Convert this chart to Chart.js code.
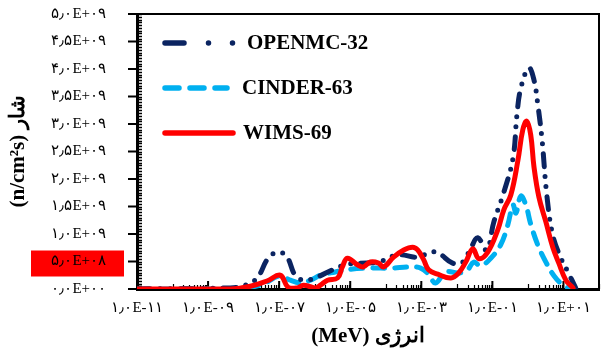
<!DOCTYPE html>
<html><head><meta charset="utf-8">
<script src="https://cdn.jsdelivr.net/npm/chart.js@4.4.0/dist/chart.umd.min.js"></script>
<style>html,body{margin:0;padding:0;background:#fff;overflow:hidden}</style>
</head><body>
<canvas id="c" width="601" height="349" style="width:601px;height:349px;display:block"></canvas>
<script>
// ---------- data (energy in MeV, flux in n/cm2s) ----------
const seriesNames = ['OPENMC-32', 'CINDER-63', 'WIMS-69'];

const openmcEnergy = [1e-11, 4.2e-9, 1.1e-8, 2.4e-8, 4.9e-8, 8.9e-8, 1.6e-7, 2.9e-7, 5.5e-7, 1.2e-6, 3.2e-6, 7.4e-6, 1.95e-5, 6.3e-5, 2.15e-4, 7.9e-4, 1.83e-3, 3.1e-3, 7.6e-3, 1.46e-2, 2.5e-2, 3.9e-2, 6.9e-2, 0.11, 0.21, 0.38, 0.49, 0.63, 1.06, 1.48, 1.9, 2.5, 3.4, 5.0, 8.5, 13.4, 22];
const openmcFlux   = [0, 0.02e9, 0.07e9, 0.2e9, 0.56e9, 0.67e9, 0.6e9, 0.24e9, 0.16e9, 0.22e9, 0.35e9, 0.44e9, 0.47e9, 0.49e9, 0.62e9, 0.58e9, 0.67e9, 0.65e9, 0.47e9, 0.49e9, 0.75e9, 0.93e9, 0.71e9, 1.22e9, 1.76e9, 2.38e9, 3.16e9, 3.65e9, 4.02e9, 3.8e9, 3.35e9, 2.71e9, 1.71e9, 0.98e9, 0.56e9, 0.31e9, 0.02e9];

const cinderEnergy = [1e-11, 4.2e-9, 2.95e-8, 1.07e-7, 2.07e-7, 4.0e-7, 7.6e-7, 1.45e-6, 3.8e-6, 1.0e-5, 3.7e-5, 1.36e-4, 5.0e-4, 9.6e-4, 1.6e-3, 2.5e-3, 4.9e-3, 1.12e-2, 2.0e-2, 3.0e-2, 4.7e-2, 9.0e-2, 0.17, 0.27, 0.38, 0.46, 0.63, 0.87, 1.2, 1.9, 3.2, 5.4, 9.7, 16];
const cinderFlux   = [0, 0, 0.07e9, 0.24e9, 0.16e9, 0.11e9, 0.16e9, 0.25e9, 0.31e9, 0.36e9, 0.38e9, 0.38e9, 0.4e9, 0.38e9, 0.27e9, 0.11e9, 0.31e9, 0.29e9, 0.35e9, 0.49e9, 0.42e9, 0.56e9, 0.8e9, 1.16e9, 1.53e9, 1.38e9, 1.69e9, 1.53e9, 1.18e9, 0.8e9, 0.49e9, 0.24e9, 0.07e9, 0];

const wimsEnergy = [1e-11, 4.2e-9, 1.55e-8, 4.7e-8, 1.07e-7, 1.8e-7, 3.2e-7, 4.8e-7, 7.6e-7, 1.05e-6, 1.45e-6, 2.3e-6, 4.4e-6, 6.0e-6, 8.3e-6, 1.6e-5, 2.3e-5, 3.7e-5, 6.3e-5, 8.7e-5, 1.66e-4, 3.2e-4, 5.7e-4, 7.9e-4, 1.17e-3, 1.6e-3, 2.9e-3, 6.8e-3, 1.12e-2, 1.78e-2, 2.8e-2, 4.2e-2, 7.4e-2, 0.141, 0.21, 0.33, 0.52, 0.72, 0.93, 1.2, 1.48, 2.04, 3.2, 5.0, 7.4, 11.7, 18.6];
const wimsFlux   = [0, 0, 0.05e9, 0.15e9, 0.25e9, 0.03e9, 0.02e9, 0.07e9, 0.04e9, 0.02e9, 0.07e9, 0.16e9, 0.2e9, 0.4e9, 0.56e9, 0.44e9, 0.4e9, 0.49e9, 0.47e9, 0.4e9, 0.58e9, 0.71e9, 0.76e9, 0.71e9, 0.53e9, 0.35e9, 0.27e9, 0.2e9, 0.29e9, 0.49e9, 0.73e9, 0.55e9, 0.67e9, 1.07e9, 1.44e9, 1.71e9, 2.33e9, 2.9e9, 3.05e9, 2.8e9, 2.22e9, 1.67e9, 1.22e9, 0.76e9, 0.47e9, 0.16e9, 0.02e9];

const yTickValues = [0, 5e8, 1e9, 1.5e9, 2e9, 2.5e9, 3e9, 3.5e9, 4e9, 4.5e9, 5e9];
const yTickLabels = ['۰٫۰E+۰۰', '۵٫۰E+۰۸', '۱٫۰E+۰۹', '۱٫۵E+۰۹', '۲٫۰E+۰۹', '۲٫۵E+۰۹', '۳٫۰E+۰۹', '۳٫۵E+۰۹', '۴٫۰E+۰۹', '۴٫۵E+۰۹', '۵٫۰E+۰۹'];
const xTickValues = [1e-11, 1e-9, 1e-7, 1e-5, 1e-3, 1e-1, 1e1];
const xTickLabels = ['۱٫۰E-۱۱', '۱٫۰E-۰۹', '۱٫۰E-۰۷', '۱٫۰E-۰۵', '۱٫۰E-۰۳', '۱٫۰E-۰۱', '۱٫۰E+۰۱'];
const xMin = 1e-11, xMax = 1e2;
const xTitle = '(MeV) انرژی';
const yTitle = '(n/cm²s) شار';

// ---------- styles ----------
const NAVY = '#0b2461', CYAN = '#00b0f0', RED = '#ff0000';
const serif = "'Liberation Serif', 'Times New Roman', serif";

function pts(xs, ys) { return xs.map((x, i) => ({ x: x, y: ys[i] })); }

const legendPlugin = {
  id: 'inLegend',
  afterDatasetsDraw(chart) {
    const { ctx, chartArea } = chart;
    const items = [
      { ds: 0, y: 29, x0: 28, x1: 96, tx: 110, dash: [19, 24.5, 0, 24, 0, 24] },
      { ds: 1, y: 74, x0: 28, x1: 90, tx: 105, dash: [14, 11] },
      { ds: 2, y: 119, x0: 28, x1: 96, tx: 106, dash: [] }
    ];
    ctx.save();
    items.forEach(it => {
      const d = chart.data.datasets[it.ds];
      const y = chartArea.top + it.y;
      ctx.beginPath();
      ctx.setLineDash(it.dash);
      ctx.lineCap = 'round';
      ctx.lineWidth = 5.5;
      ctx.strokeStyle = d.borderColor;
      ctx.moveTo(chartArea.left + it.x0, y);
      ctx.lineTo(chartArea.left + it.x1, y);
      ctx.stroke();
      ctx.setLineDash([]);
      ctx.fillStyle = '#000';
      ctx.font = 'bold 21px ' + serif;
      ctx.textBaseline = 'middle';
      ctx.textAlign = 'left';
      ctx.fillText(d.label, chartArea.left + it.tx, y + 1);
    });
    ctx.restore();
  }
};

const axisDecor = {
  id: 'axisDecor',
  beforeDraw(chart) {
    const { ctx } = chart;
    const y = chart.scales.y;
    const py = y.getPixelForValue(yTickValues[1]);
    ctx.save();
    ctx.fillStyle = RED;
    ctx.fillRect(31, py - 11, 93, 26);
    ctx.restore();
  },
  beforeDatasetsDraw(chart) {
    const { ctx, chartArea } = chart;
    const xs = chart.scales.x, ys = chart.scales.y;
    ctx.save();
    ctx.strokeStyle = '#000';
    ctx.lineWidth = 2;
    ctx.beginPath();
    ctx.moveTo(chartArea.left, chartArea.top);
    ctx.lineTo(chartArea.right, chartArea.top);
    ctx.lineTo(chartArea.right, chartArea.bottom);
    ctx.stroke();
    ctx.lineWidth = 1.5;
    ctx.beginPath();
    for (let i = 0; i <= 100; i++) {
      const p = Math.round(ys.getPixelForValue(ys.min + (ys.max - ys.min) * i / 100)) + 0.5;
      ctx.moveTo(chartArea.left, p); ctx.lineTo(chartArea.left + 5, p);
    }
    ctx.stroke();
    ctx.lineWidth = 2;
    ctx.beginPath();
    yTickValues.forEach(v => {
      const p = ys.getPixelForValue(v);
      ctx.moveTo(chartArea.left - 9, p); ctx.lineTo(chartArea.left, p);
    });
    ctx.stroke();
    ctx.lineWidth = 2;
    ctx.beginPath();
    xTickValues.forEach(v => {
      const p = xs.getPixelForValue(v);
      ctx.moveTo(p, chartArea.bottom); ctx.lineTo(p, chartArea.bottom - 8);
    });
    ctx.stroke();
    ctx.lineWidth = 1.2;
    ctx.beginPath();
    xTickValues.forEach(v => {
      for (let k = 1; k <= 9; k++) {
        const val = v * 10 * k;
        if (val > xMax) break;
        const p = Math.round(xs.getPixelForValue(val)) + 0.5;
        const h = (k === 1) ? 5 : 4;
        ctx.moveTo(p, chartArea.bottom); ctx.lineTo(p, chartArea.bottom - h);
      }
    });
    ctx.stroke();
    ctx.restore();
  }
};

const common = { fill: false, pointRadius: 0, borderWidth: 5, tension: 0.4, borderCapStyle: 'round', borderJoinStyle: 'round' };
const hiddenTicks = { display: true, drawOnChartArea: false, drawTicks: true, color: 'rgba(0,0,0,0)' };

new Chart(document.getElementById('c'), {
  type: 'line',
  data: {
    datasets: [
      Object.assign({ label: seriesNames[0], data: pts(openmcEnergy, openmcFlux), borderColor: NAVY, borderDash: [13, 10, 0, 10, 0, 10], order: 1 }, common),
      Object.assign({ label: seriesNames[1], data: pts(cinderEnergy, cinderFlux), borderColor: CYAN, borderDash: [12, 10], order: 2 }, common),
      Object.assign({ label: seriesNames[2], data: pts(wimsEnergy, wimsFlux), borderColor: RED, order: 0 }, common)
    ]
  },
  options: {
    responsive: false,
    animation: false,
    devicePixelRatio: 1,
    layout: { padding: { top: 14, right: 2, left: 0, bottom: 0 } },
    plugins: { legend: { display: false }, tooltip: { enabled: false } },
    scales: {
      x: {
        type: 'logarithmic', min: xMin, max: xMax,
        afterBuildTicks: s => { s.ticks = xTickValues.map(v => ({ value: v })); },
        afterFit: s => { s.height = 60; },
        ticks: { autoSkip: false, maxRotation: 0, callback: (v, i) => xTickLabels[i], font: { family: serif, size: 15 }, color: '#000', padding: 0 },
        grid: Object.assign({ tickLength: 10 }, hiddenTicks),
        border: { display: true, color: '#000', width: 3 },
        title: { display: true, text: xTitle, font: { family: serif, size: 21, weight: 'bold' }, color: '#000', padding: { top: 0, bottom: 0 } }
      },
      y: {
        type: 'linear', min: 0, max: 5e9,
        afterBuildTicks: s => { s.ticks = yTickValues.map(v => ({ value: v })); },
        afterFit: s => { s.width = 137; },
        ticks: { callback: (v, i) => yTickLabels[i], font: { family: serif, size: 15 }, color: '#000', padding: 0 },
        grid: Object.assign({ tickLength: 31 }, hiddenTicks),
        border: { display: true, color: '#000', width: 3 },
        title: { display: true, text: yTitle, font: { family: serif, size: 21, weight: 'bold' }, color: '#000', padding: { top: 6, bottom: 0 } }
      }
    }
  },
  plugins: [axisDecor, legendPlugin]
});
</script>
</body></html>
